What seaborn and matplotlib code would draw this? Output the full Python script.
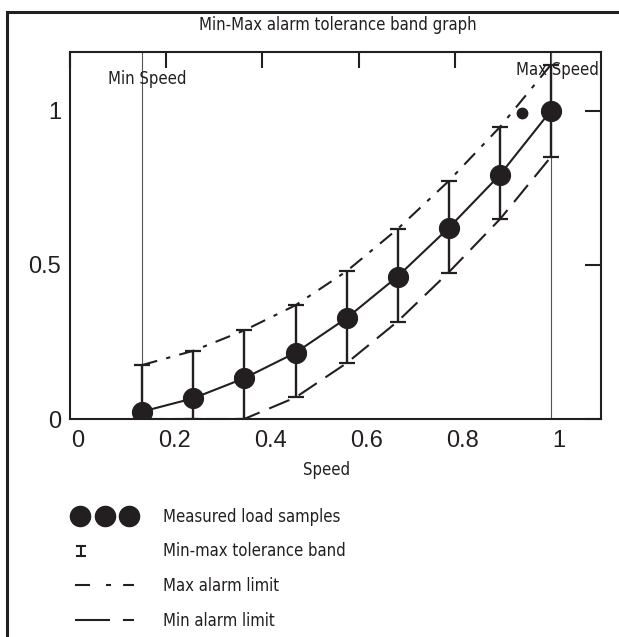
import numpy as np
import matplotlib
matplotlib.use("Agg")
import matplotlib.pyplot as plt
import seaborn as sns
from matplotlib.lines import Line2D
from matplotlib.path import Path
from matplotlib.patches import Rectangle
from matplotlib.legend_handler import HandlerLine2D
from matplotlib.transforms import ScaledTranslation

# values
speed = [0.15, 0.256, 0.362, 0.469, 0.575, 0.681, 0.787, 0.894, 1.0]
load = [0.024, 0.067, 0.132, 0.215, 0.327, 0.462, 0.619, 0.792, 1.0]
band_max = [0.175, 0.221, 0.287, 0.369, 0.479, 0.616, 0.771, 0.947, 1.149]
band_min = [0.0, 0.0, 0.0, 0.070, 0.181, 0.316, 0.475, 0.648, 0.850]
min_speed = 0.15
max_speed = 1.0
stray_x = [0.94]
stray_y = [0.993]

x_ticks = [0, 0.2, 0.4, 0.6, 0.8, 1]
x_tick_labels = ["0", "0.2", "0.4", "0.6", "0.8", "1"]
y_ticks = [0, 0.5, 1]
y_tick_labels = ["0", "0.5", "1"]

legend_labels = ["Measured load samples", "Min-max tolerance band",
                 "Max alarm limit", "Min alarm limit"]

ink = "#231f20"
narrow = {"family": "DejaVu Sans", "stretch": "condensed", "size": 12}

sns.set_theme(style="white")
plt.rcParams["font.family"] = ["Liberation Sans", "DejaVu Sans"]

W, H = 619, 637
fig = plt.figure(figsize=(W / 100, H / 100), dpi=100)
ax = fig.add_axes([70 / W, 1 - 419 / H, 531 / W, 367 / H])

# min / max speed markers
ax.axvline(min_speed, color="#555555", lw=0.8, zorder=1)
ax.axvline(max_speed, color="#555555", lw=0.8, zorder=1)

# alarm limits
sns.lineplot(x=speed, y=band_max, ax=ax, color=ink, lw=1.5,
             linestyle=(0, (7.5, 4.5, 2, 4.5)), zorder=2)
sns.lineplot(x=speed, y=band_min, ax=ax, color=ink, lw=1.5,
             linestyle=(0, (10.5, 5)), zorder=2)

# tolerance band
yerr = [np.array(load) - np.array(band_min), np.array(band_max) - np.array(load)]
ax.errorbar(speed, load, yerr=yerr, fmt="none", ecolor=ink, elinewidth=1.7,
            capsize=6, capthick=1.6, zorder=3)

# measured samples
sns.lineplot(x=speed, y=load, ax=ax, color=ink, lw=1.5, marker="o",
             markersize=14.5, mec=ink, mfc=ink, zorder=4)
ax.plot(stray_x, stray_y, ls="none", marker="o", ms=7.5, color=ink)

ax.text(0.079, 1.104, "Min Speed", ha="left", va="center", fontproperties=narrow,
        color=ink)
ax.text(0.927, 1.133, "Max Speed", ha="left", va="center", fontproperties=narrow,
        color=ink)

ax.set_xlim(0, 1.104)
ax.set_ylim(0, 1.19)
ax.set_xticks(x_ticks, x_tick_labels)
ax.set_yticks(y_ticks, y_tick_labels)
ax.tick_params(direction="in", length=11.5, width=1.5, top=True, right=True,
               labelsize=17, color=ink, labelcolor=ink)
ax.tick_params(axis="x", pad=8)
ax.tick_params(axis="y", pad=6.5)
for lab in ax.get_xticklabels():
    lab.set_transform(lab.get_transform() + ScaledTranslation(0.08, 0, fig.dpi_scale_trans))
for sp in ax.spines.values():
    sp.set_linewidth(1.5)
    sp.set_color(ink)

ax.set_xlabel("Speed", fontproperties=narrow, color=ink)
ax.xaxis.set_label_coords(0.484, -0.114)

fig.text(338 / W, 1 - 25 / H, "Min-Max alarm tolerance band graph",
         ha="center", va="center", fontproperties=narrow, color=ink)


# legend
class LeftHandler(HandlerLine2D):
    def get_xdata(self, legend, xdescent, ydescent, width, height, fontsize):
        x = -xdescent + 4.5
        return np.array([x, x]), np.array([x])


ibeam = Path([(-0.5, 0.5), (0.5, 0.5), (0, 0.5), (0, -0.5), (-0.5, -0.5), (0.5, -0.5)],
             [Path.MOVETO, Path.LINETO, Path.MOVETO, Path.LINETO, Path.MOVETO, Path.LINETO])
h_meas = Line2D([], [], ls="none", marker="o", ms=14.5, color=ink)
h_band = Line2D([], [], ls="none", marker=ibeam, ms=7, mew=1.5, mec=ink, mfc="none")
h_max = Line2D([], [], color=ink, lw=1.5, ls=(0, (7.2, 7.7, 2.4, 5.8, 5.3, 20)))
h_min = Line2D([], [], color=ink, lw=1.5, ls=(0, (16.8, 6.2, 5.3, 20)))

ax.legend(handles=[h_meas, h_band, h_max, h_min], labels=legend_labels,
          loc="upper left", bbox_to_anchor=(75 / W, 1 - 508 / H),
          bbox_transform=fig.transFigure, frameon=False, numpoints=3,
          handlelength=3.55, handletextpad=1.75, labelspacing=0.99,
          borderpad=0, borderaxespad=0, labelcolor=ink, prop=narrow,
          handler_map={h_band: LeftHandler(numpoints=1),
                       h_max: HandlerLine2D(numpoints=1),
                       h_min: HandlerLine2D(numpoints=1)})

# outer frame
fig.add_artist(Rectangle((7 / W, -0.1), 1.2, 1.1 - 12 / H, transform=fig.transFigure,
                         fill=False, lw=2.2, ec=ink))

fig.savefig("out.png", dpi=100)
